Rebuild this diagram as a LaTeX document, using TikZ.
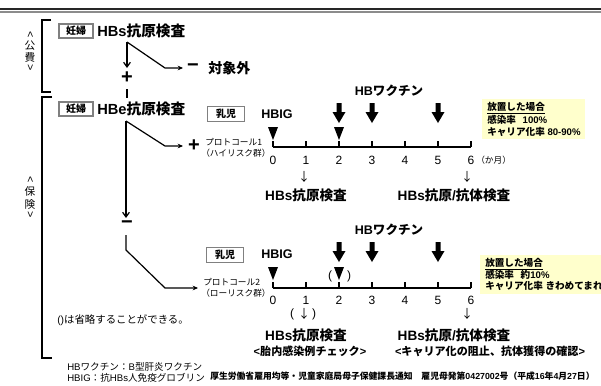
\documentclass[tikz,border=0pt]{standalone}
\usepackage{fontspec}
\setmainfont{Liberation Sans}
\newfontfamily\jp{Noto Sans CJK JP}
\usetikzlibrary{arrows.meta}
\newcommand\J[1]{{\jp #1}}
\newcommand\fsz[1]{\fontsize{#1}{#1}\selectfont}
\definecolor{memo}{HTML}{FFFFCC}
\definecolor{frame}{HTML}{808080}
\begin{document}
\begin{tikzpicture}[x=0.75pt,y=-0.75pt,
  every node/.style={inner sep=0pt},
  hbox/.style={draw=frame, line width=0.8pt, minimum width=25.5pt, minimum height=10.5pt, font=\bfseries\fsz{7.5}},
  infbox/.style={draw=frame, line width=0.8pt, minimum width=27.5pt, minimum height=11pt, font=\bfseries\fsz{7.5}},
  head/.style={font=\bfseries\fsz{11}, anchor=west},
  flow/.style={line width=0.9pt},
  arrv/.style={-{Straight Barb[length=3.5pt,width=5pt]}},
  arrh/.style={-{Stealth[length=4pt,width=3.5pt]}},
  sign/.style={font=\bfseries\fsz{15}},
  brk/.style={line width=1.5pt},
  vlab/.style={font=\fsz{8}},
  vang/.style={font=\fsz{8}, rotate=-90},
  tl/.style={line width=2.2pt},
  tickmark/.style={line width=1.4pt},
  num/.style={font=\fsz{9}},
  test/.style={font=\bfseries\fsz{10.2}},
  vac/.style={font=\bfseries\fsz{9.4}},
  proto/.style={font=\fsz{6.5}, anchor=west},
  memobox/.style={fill=memo, anchor=north west},
  memotext/.style={font=\bfseries\fsz{7.2}, anchor=west},
  sub/.style={font=\bfseries\fsz{8.3}},
  small/.style={font=\fsz{7.2}, anchor=west},
]
\useasboundingbox (0,0) rectangle (601,386);

% top rule
\draw[line width=2pt, black!85] (0,9) -- (601,9);
\draw[line width=1.5pt, black!45] (0,11.5) -- (601,11.5);

% brackets
\draw[brk] (51,20) -- (42,20) -- (42,92) -- (51,92);
\draw[brk] (52,97) -- (42,97) -- (42,358) -- (52,358);

% vertical labels
\node[vang] (l1a) at (30,35) {<};
\node[vlab] (l1b) at (30,45.5) {\J{公}};
\node[vlab] (l1c) at (30,57.5) {\J{費}};
\node[vang] (l1d) at (30,68) {>};
\node[vang] (l2a) at (30,180) {<};
\node[vlab] (l2b) at (30,191) {\J{保}};
\node[vlab] (l2c) at (30,204) {\J{険}};
\node[vang] (l2d) at (30,215) {>};

% headers
\node[hbox] (preg1) at (76,31) {\J{妊婦}};
\node[head] (hbs) at (97,31) {HBs\J{抗原検査}};
\node[hbox] (preg2) at (76,109) {\J{妊婦}};
\node[head] (hbe) at (97,109) {HBe\J{抗原検査}};

% top flow
\coordinate (s1) at (127,42);
\coordinate (t1) at (127,68);
\coordinate (k1) at (165,68);
\coordinate (t2) at (183,68);
\node[sign] (plus1) at (127,78) {+};
\node[sign] (minus1) at (193,68) {−};
\node[font=\bfseries\fsz{10.5}, anchor=west] (excl) at (208,68) {\J{対象外}};
\draw[flow,arrv] (s1) -- (t1);
\draw[flow,arrh] (s1) -- (k1) -- (t2);
\coordinate (g1) at (127,89);
\coordinate (g2) at (127,98);
\draw[line width=1.2pt] (g1) -- (g2);

% HBe flow
\coordinate (s2) at (126,121);
\coordinate (t3) at (126,218);
\coordinate (k2) at (165,146);
\coordinate (t4) at (183,146);
\node[sign] (plus2) at (194,146) {+};
\node[sign] (minus2) at (127,225) {−};
\coordinate (s3) at (126,235);
\coordinate (k3) at (126,250);
\coordinate (k4) at (165,288);
\coordinate (t5) at (198,288);
\draw[flow,arrv] (s2) -- (t3);
\draw[flow,arrh] (s2) -- (k2) -- (t4);
\draw[flow,arrh] (s3) -- (k3) -- (k4) -- (t5);

% protocol labels
\node[proto] (pr1a) at (205,142) {\J{プロトコール1}};
\node[proto] (pr1b) at (201,153) {\J{（ハイリスク群）}};
\node[proto] (pr2a) at (203,282) {\J{プロトコール2}};
\node[proto] (pr2b) at (201,293) {\J{（ローリスク群）}};

% ===== protocol 1 =====
\node[infbox] (inf1) at (226,114) {\J{乳児}};
\node[vac] (hbig1) at (277,114) {HBIG};
\node[vac] (vac1) at (389,91) {HB\J{ワクチン}};
\coordinate (a0) at (273,147);
\coordinate (a6) at (471,147);
\draw[tl] (a0) -- (a6);
\foreach \i in {0,...,6} {
  \draw[tickmark] (273+33*\i,147) -- (273+33*\i,141);
  \node[num] (na\i) at (273+33*\i,160) {\i};
}
\foreach \x in {273,339} \fill (\x-5,127) -- (\x+5,127) -- (\x,140) -- cycle;
\foreach \x in {339,372,438} \fill (\x-2.5,103) -- (\x+2.5,103) -- (\x+2.5,112) -- (\x+6.5,112) -- (\x,123) -- (\x-6.5,112) -- (\x-2.5,112) -- cycle;
\node[font=\fsz{6.5}, anchor=west] (mon) at (476,160) {\J{（か月）}};
\node[font=\fsz{9}] (da1) at (304,177) {\J{↓}};
\node[font=\fsz{9}] (da6) at (467,177) {\J{↓}};
\node[test] (hbs1) at (306,195) {HBs\J{抗原検査}};
\node[test] (hbsab1) at (454,195) {HBs\J{抗原}/\J{抗体検査}};
\node[memobox, minimum width=77.25pt, minimum height=30pt] (memo1) at (482,99) {};
\node[memotext] (m1a) at (487,108) {\underline{\J{放置した場合}}};
\node[memotext] (m1b) at (487,120) {\J{感染率}\hspace{5pt}100\%};
\node[memotext] (m1c) at (487,132) {\J{キャリア化率}\hspace{2pt}80-90\%};

% ===== protocol 2 =====
\node[infbox] (inf2) at (225,255) {\J{乳児}};
\node[vac] (hbig2) at (277,254) {HBIG};
\node[vac] (vac2) at (389,230) {HB\J{ワクチン}};
\coordinate (b0) at (273,288);
\coordinate (b6) at (471,288);
\draw[tl] (b0) -- (b6);
\foreach \i in {0,...,6} {
  \draw[tickmark] (273+33*\i,288) -- (273+33*\i,282);
  \node[num] (nb\i) at (273+33*\i,300) {\i};
}
\foreach \x in {273,339} \fill (\x-5,267) -- (\x+5,267) -- (\x,280) -- cycle;
\foreach \x in {339,372,438} \fill (\x-2.5,242) -- (\x+2.5,242) -- (\x+2.5,251) -- (\x+6.5,251) -- (\x,262) -- (\x-6.5,251) -- (\x-2.5,251) -- cycle;
\node[num] (lp1) at (330,276) {(};
\node[num] (rp1) at (349,276) {)};
\node[num] (lp2) at (292,314) {(};
\node[font=\fsz{9}] (db1) at (304,314) {\J{↓}};
\node[num] (rp2) at (314,314) {)};
\node[font=\fsz{9}] (db6) at (467,314) {\J{↓}};
\node[test] (hbs2) at (306,335) {HBs\J{抗原検査}};
\node[test] (hbsab2) at (454,335) {HBs\J{抗原}/\J{抗体検査}};
\node[sub] (chk) at (310,351) {<\J{胎内感染例チェック}>};
\node[sub] (goal) at (490,351) {<\J{キャリア化の阻止、抗体獲得の確認}>};
\node[memobox, minimum width=90.75pt, minimum height=29.25pt] (memo2) at (480,255) {};
\node[memotext] (m2a) at (485,264) {\underline{\J{放置した場合}}};
\node[memotext] (m2b) at (485,275) {\J{感染率}\hspace{5pt}\J{約}10\%};
\node[memotext] (m2c) at (485,286) {\J{キャリア化率}\hspace{2pt}\J{きわめてまれ}};

% notes
\node[font=\fsz{7.8}, anchor=west] (omit) at (57,320) {()\J{は省略することができる。}};
\node[small] (f1) at (67,367) {HB\J{ワクチン：}B\J{型肝炎ワクチン}};
\node[small] (f2) at (67,378) {HBIG\J{：抗}HBs\J{人免疫グロブリン}};
\node[font=\bfseries\fsz{6.6}, anchor=west] (f3) at (210,376) {\J{厚生労働省雇用均等・児童家庭局母子保健課長通知　雇児母発第}0427002\J{号（平成}16\J{年}4\J{月}27\J{日）}};
\end{tikzpicture}
\end{document}
